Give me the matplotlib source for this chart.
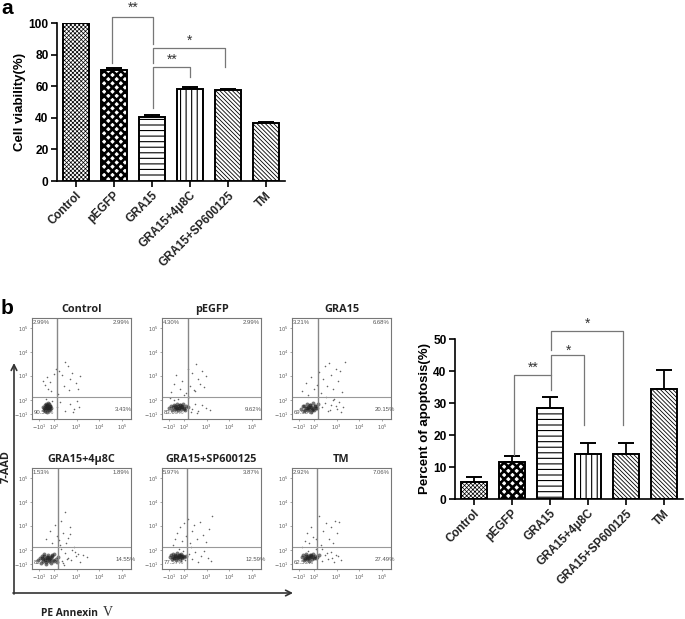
import matplotlib
matplotlib.use("Agg")
import matplotlib.pyplot as plt

plt.rcParams["font.family"] = ["Liberation Sans", "DejaVu Sans"]
plt.rcParams["hatch.color"] = "black"

W, H = 685, 619

# bar data
groups = ["Control", "pEGFP", "GRA15", "GRA15+4\u03bc8C", "GRA15+SP600125", "TM"]
hatches = ["xxxxxxxx", "xxxx", "---", "|||", "\\\\\\\\\\\\\\\\", "\\\\\\\\\\\\\\\\"]
hatch_lw = [0.5, 1.9, 0.8, 0.8, 0.6, 0.6]
viability = [100, 70.5, 40.5, 58.5, 57.5, 37]
viability_err = [0, 1, 1, 1, 1, 0.6]
apoptosis = [5.3, 11.5, 28.5, 14.2, 14.2, 34.3]
apoptosis_err = [1.7, 1.9, 3.3, 3.2, 3.2, 6.1]

# brackets: x left, x right, top, left end, right end, stars, star gap
brackets_a = [
    (0.95, 2.03, 104, 75, 87, "**", 5.8),
    (2.03, 3.92, 84, 75, 72, "*", 4.5),
    (2.03, 3.0, 72, 46, 66, "**", 4.5),
]
brackets_b = [
    (1.06, 2.03, 38.8, 13.8, 34, "**", 2.2),
    (2.03, 2.9, 44.9, 38.8, 23, "*", 1.3),
    (2.03, 3.92, 52.6, 46.7, 23, "*", 2.2),
]

# flow cytometry panels
flow_titles = ["Control", "pEGFP", "GRA15", "GRA15+4\u03bc8C", "GRA15+SP600125", "TM"]
flow_ul = ["2.99%", "4.30%", "3.21%", "1.53%", "5.97%", "2.92%"]
flow_ur = ["2.99%", "2.99%", "6.68%", "1.89%", "3.87%", "7.06%"]
flow_lr = ["3.43%", "9.62%", "20.15%", "14.55%", "12.59%", "27.49%"]
flow_ll = ["90.59%", "83.09%", "69.96%", "82.03%", "77.57%", "62.53%"]
flow_tick_y = [5, 19, 43, 66, 90]
flow_tick_ylabels = ["$-10^{1}$", "$10^{2}$", "$10^{3}$", "$10^{4}$", "$10^{5}$"]
flow_tick_x = [7, 22, 45, 68, 91]
flow_tick_xlabels = ["$-10^{1}$", "$10^{2}$", "$10^{3}$", "$10^{4}$", "$10^{5}$"]

# dense core of each population, percent of the box
core_x = [
    [11, 12, 13, 13, 14, 14, 15, 15, 15, 16, 16, 17, 17, 18, 18, 19, 12, 14, 16, 18, 13, 15, 17, 15],
    [7, 9, 10, 12, 13, 14, 15, 16, 16, 17, 18, 19, 20, 21, 22, 23, 24, 26, 11, 14, 17, 20, 13, 18, 22, 15, 19],
    [9, 11, 12, 14, 15, 16, 17, 18, 19, 20, 21, 22, 23, 24, 26, 13, 15, 17, 19, 21, 12, 16, 20, 25, 18, 23],
    [6, 8, 9, 10, 11, 12, 13, 14, 15, 16, 17, 18, 19, 20, 21, 22, 24, 26, 10, 13, 15, 17, 19, 22, 12, 14, 16, 18, 11, 15, 20, 25],
    [8, 9, 10, 11, 12, 13, 14, 15, 16, 17, 18, 19, 20, 21, 22, 24, 11, 13, 15, 17, 19, 12, 14, 16, 18, 20],
    [10, 11, 12, 13, 14, 15, 16, 17, 18, 19, 20, 21, 22, 23, 25, 27, 13, 15, 17, 19, 14, 16, 18, 21, 24],
]
core_y = [
    [12, 9, 14, 8, 11, 15, 10, 13, 7, 16, 9, 12, 15, 10, 13, 11, 11, 13, 11, 13, 10, 12, 9, 14],
    [11, 13, 9, 14, 10, 12, 15, 9, 13, 11, 14, 10, 12, 15, 11, 9, 13, 12, 12, 10, 11, 13, 13, 14, 10, 11, 12],
    [10, 13, 8, 11, 15, 9, 12, 14, 7, 11, 16, 9, 13, 11, 15, 9, 11, 10, 12, 10, 13, 12, 9, 11, 14, 13],
    [9, 11, 6, 13, 8, 15, 10, 5, 12, 14, 8, 11, 6, 13, 9, 15, 10, 12, 11, 9, 11, 10, 12, 8, 13, 7, 12, 9, 10, 9, 14, 7],
    [12, 14, 10, 15, 11, 13, 9, 16, 12, 14, 10, 15, 11, 13, 12, 13, 12, 14, 11, 13, 12, 11, 13, 12, 14, 13],
    [12, 14, 9, 11, 15, 10, 13, 8, 12, 14, 10, 15, 11, 13, 12, 14, 10, 12, 11, 13, 13, 11, 14, 12, 11],
]

# scattered events around the core
sparse_x = [
    [11, 13, 15, 16, 18, 19, 22, 24, 27, 30, 33, 36, 38, 40, 44, 46, 48, 14, 20, 26, 32, 37, 25, 28, 33, 38, 42, 45, 47, 41],
    [9, 12, 14, 18, 20, 24, 26, 28, 30, 32, 34, 36, 38, 40, 42, 44, 16, 22, 27, 33, 30, 33, 36, 40, 44, 48, 8, 12, 29, 35],
    [10, 14, 16, 19, 22, 25, 27, 29, 31, 33, 35, 37, 39, 41, 44, 46, 48, 50, 54, 30, 33, 36, 39, 42, 45, 47, 49, 52, 34, 38, 41, 44],
    [14, 18, 20, 23, 25, 27, 29, 31, 33, 36, 38, 30, 33, 36, 40, 44, 48, 52, 56, 34, 38, 42, 46, 29, 31, 35, 28, 32, 39, 43],
    [11, 13, 15, 18, 20, 22, 24, 26, 28, 30, 32, 35, 38, 41, 44, 47, 50, 17, 19, 21, 23, 27, 30, 33, 36, 39, 42, 46, 49, 29],
    [10, 13, 15, 17, 19, 21, 24, 27, 29, 31, 34, 37, 39, 41, 43, 45, 47, 16, 24, 30, 33, 36, 39, 42, 46, 49, 30, 35, 40, 44],
]
sparse_y = [
    [38, 34, 42, 30, 37, 28, 45, 50, 48, 44, 56, 52, 40, 46, 36, 30, 43, 20, 18, 25, 33, 29, 12, 17, 8, 15, 10, 18, 12, 7],
    [27, 35, 44, 30, 38, 26, 50, 33, 46, 29, 54, 40, 35, 48, 32, 43, 20, 24, 22, 28, 10, 15, 8, 14, 11, 9, 21, 19, 7, 6],
    [28, 36, 24, 42, 30, 34, 47, 26, 40, 52, 33, 55, 44, 30, 50, 38, 48, 27, 56, 12, 16, 8, 14, 20, 10, 17, 7, 12, 22, 9, 19, 13],
    [30, 38, 26, 44, 33, 29, 48, 36, 56, 31, 42, 8, 16, 11, 19, 13, 7, 14, 12, 26, 35, 22, 15, 20, 6, 10, 24, 4, 9, 17],
    [24, 30, 36, 42, 28, 46, 33, 50, 26, 38, 44, 30, 47, 34, 27, 40, 52, 20, 8, 18, 9, 15, 10, 17, 7, 13, 18, 11, 8, 22],
    [22, 28, 36, 26, 42, 32, 30, 52, 24, 38, 46, 30, 42, 26, 48, 36, 47, 18, 20, 8, 14, 10, 17, 7, 13, 9, 20, 16, 11, 14],
]

# box positions in pixels: left, top, right, bottom, gate x, gate y
boxes = [
    (32, 318, 131, 419, 57, 397),
    (162, 318, 261, 419, 188, 397),
    (292, 318, 391, 419, 318, 397),
    (32, 468, 131, 569, 58, 547),
    (162, 468, 261, 569, 187, 547),
    (292, 468, 391, 569, 317, 547),
]


def px_axes(fig, left, top, right, bottom):
    return fig.add_axes([left / W, 1 - bottom / H, (right - left) / W, (bottom - top) / H])


def bar_panel(ax, values, errs, ymax, step, ylabel, brackets, label_pad):
    ax.set_xlim(-0.49, 5.51)
    ax.set_ylim(0, ymax)
    for i in range(len(groups)):
        b = ax.bar(i, values[i], width=0.68, facecolor="white", edgecolor="black",
                   linewidth=1.4, hatch=hatches[i], zorder=2)
        b[0].set_hatch_linewidth(hatch_lw[i])
        if errs[i] > 0:
            ax.errorbar(i, values[i], yerr=[[0], [errs[i]]], color="black", elinewidth=1.3,
                        capsize=5.5, capthick=1.4, zorder=1)
    for s in ["top", "right"]:
        ax.spines[s].set_visible(False)
    for s in ["left", "bottom"]:
        ax.spines[s].set_linewidth(1.2)
    ax.set_yticks(range(0, ymax + 1, step))
    ax.set_xticks(range(len(groups)))
    ax.set_xticklabels(groups, rotation=45, ha="right", rotation_mode="anchor", fontsize=8.4, color="#222222")
    ax.tick_params(axis="both", width=1.2, length=4, pad=2)
    ax.tick_params(axis="y", labelsize=8.6)
    for t in ax.get_yticklabels():
        t.set_fontweight("bold")
    for t in ax.get_xticklabels():
        t.set_fontweight("bold")
    ax.set_ylabel(ylabel, fontsize=9.5, fontweight="bold", labelpad=label_pad)
    for x0, x1, top, y0, y1, stars, gap in brackets:
        ax.plot([x0, x0, x1, x1], [y0, top, top, y1], color="#777777", lw=0.9, clip_on=False, zorder=3)
        ax.text((x0 + x1) / 2 + 0.02, top + gap, stars, ha="center", va="center", fontsize=10,
                color="#333333", clip_on=False)


fig = plt.figure(figsize=(W / 100, H / 100), dpi=100)

ax_a = px_axes(fig, 57, 23, 285, 181)
bar_panel(ax_a, viability, viability_err, 100, 20, "Cell viability(%)", brackets_a, 2)

ax_b = px_axes(fig, 455, 339, 683, 499)
bar_panel(ax_b, apoptosis, apoptosis_err, 50, 10, "Percent of apoptosis(%)", brackets_b, 2)

for i in range(6):
    left, top, right, bottom, gx, gy = boxes[i]
    ax = px_axes(fig, left, top, right, bottom)
    ax.set_xlim(0, 100)
    ax.set_ylim(0, 100)
    for s in ax.spines.values():
        s.set_color("#777777")
        s.set_linewidth(0.8)
    ax.axvline((gx - left) / (right - left) * 100, color="#888888", lw=1.0)
    ax.axhline((bottom - gy) / (bottom - top) * 100, color="#999999", lw=0.8)
    ax.text(2, 6, flow_ll[i], fontsize=4.3, color="#555555", va="center")
    ax.scatter(sparse_x[i], sparse_y[i], s=1.3, color="#666666", linewidths=0)
    ax.scatter(core_x[i], core_y[i], s=8, color="#222222", alpha=0.6, linewidths=0)
    ax.text(1, 96, flow_ul[i], fontsize=4.3, color="#555555", va="center")
    ax.text(99, 96, flow_ur[i], fontsize=4.3, color="#555555", va="center", ha="right")
    ax.text(84, 9, flow_lr[i], fontsize=4.3, color="#555555", va="center")
    ax.set_xticks(flow_tick_x)
    ax.set_xticklabels(flow_tick_xlabels, fontsize=3.6, color="#555555")
    ax.set_yticks(flow_tick_y)
    ax.set_yticklabels(flow_tick_ylabels, fontsize=3.6, color="#555555")
    ax.tick_params(axis="both", length=1.2, width=0.4, pad=1.5, color="#666666")
    ax.set_title(flow_titles[i], fontsize=7.8, fontweight="bold", family="Open Sans", pad=4.5, color="#222222")

# overlay for the big arrows and panel letters
over = fig.add_axes([0, 0, 1, 1])
over.set_xlim(0, W)
over.set_ylim(H, 0)
over.axis("off")
over.patch.set_alpha(0)
over.annotate("", xy=(14, 363), xytext=(14, 594),
              arrowprops=dict(arrowstyle="->", color="#333333", lw=1.2, shrinkA=0, shrinkB=0))
over.annotate("", xy=(293, 593), xytext=(13, 593),
              arrowprops=dict(arrowstyle="->", color="#333333", lw=1.2, shrinkA=0, shrinkB=0))
over.text(6, 467, "7-AAD", rotation=90, fontsize=7.8, fontweight="bold", family="Open Sans",
          ha="center", va="center", color="#222222")
over.text(41, 613, "PE Annexin", fontsize=7.4, fontweight="bold", family="Open Sans",
          ha="left", va="center", color="#222222")
over.text(103, 612, "V", fontsize=10, family="Liberation Serif", ha="left", va="center", color="#333333")
over.text(1, 8, "a", fontsize=15, fontweight="bold", ha="left", va="center")
over.text(1, 308, "b", fontsize=15, fontweight="bold", ha="left", va="center")

fig.savefig("out.png", dpi=100)
